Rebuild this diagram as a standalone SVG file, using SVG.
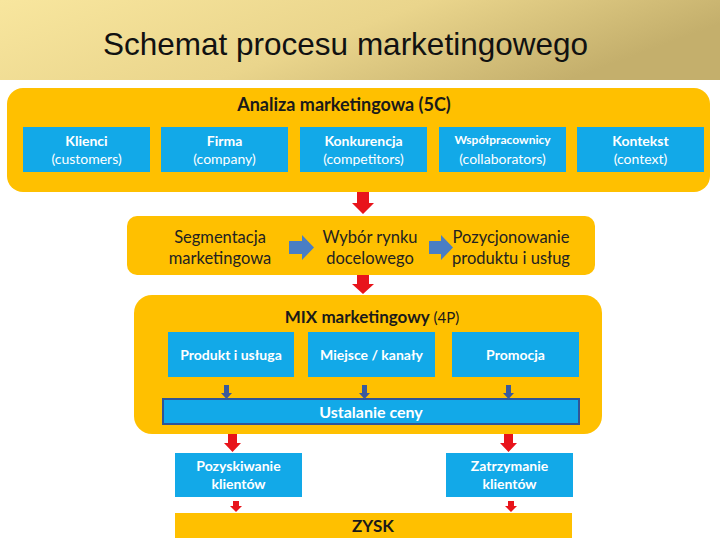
<svg xmlns="http://www.w3.org/2000/svg" width="720" height="540" viewBox="0 0 720 540">
<defs>
<linearGradient id="band" x1="0" y1="0" x2="1" y2="0.3">
<stop offset="0" stop-color="#F8E69E"/>
<stop offset="0.55" stop-color="#EAD58C"/>
<stop offset="1" stop-color="#C4AF6C"/>
</linearGradient>
<style>
.panel{fill:#FFC000;}
.blue{fill:#12A9E8;}
.wt{font-family:Lato,"Open Sans","Liberation Sans",sans-serif;font-size:14px;fill:#FFFFFF;text-anchor:middle;}
.wb{font-weight:bold;}
.bt{font-family:Lato,"Open Sans","Liberation Sans",sans-serif;font-size:16.5px;fill:#222222;text-anchor:middle;}
.hd{font-family:Lato,"Open Sans","Liberation Sans",sans-serif;font-size:18px;font-weight:bold;fill:#1A1A1A;text-anchor:middle;}
.red{fill:#E8141B;}
.barrow{fill:#4A7EC4;}
.darrow{fill:#3A5A9C;}
</style>
</defs>
<rect x="0" y="0" width="720" height="540" fill="#FFFFFF"/>
<g id="title">
<rect x="0" y="0" width="720" height="80" fill="url(#band)"/>
<text x="103" y="55" font-family="'Liberation Sans',Arial,sans-serif" font-size="31.5" fill="#111111">Schemat procesu marketingowego</text>
</g>

<g id="analiza">
<rect class="panel" x="7" y="88" width="703" height="104" rx="16"/>
<text class="hd" x="344" y="111">Analiza marketingowa (5C)</text>
</g>
<g id="klienci">
<rect class="blue" x="23" y="127" width="127" height="45"/>
<text class="wt wb" x="86.5" y="146">Klienci</text>
<text class="wt" x="86.5" y="164">(customers)</text>
</g>
<g id="firma">
<rect class="blue" x="161" y="127" width="127" height="45"/>
<text class="wt wb" x="224.5" y="146">Firma</text>
<text class="wt" x="224.5" y="164">(company)</text>
</g>
<g id="konkurencja">
<rect class="blue" x="300" y="127" width="127" height="45"/>
<text class="wt wb" x="363.5" y="146">Konkurencja</text>
<text class="wt" x="363.5" y="164">(competitors)</text>
</g>
<g id="wspolpracownicy">
<rect class="blue" x="439" y="127" width="127" height="45"/>
<text class="wt wb" x="502.5" y="144" style="font-size:12px">Współpracownicy</text>
<text class="wt" x="502.5" y="164">(collaborators)</text>
</g>
<g id="kontekst">
<rect class="blue" x="577" y="127" width="127" height="45"/>
<text class="wt wb" x="640.5" y="146">Kontekst</text>
<text class="wt" x="640.5" y="164">(context)</text>
</g>

<g id="stp">
<rect class="panel" x="127" y="216" width="468" height="59" rx="10"/>
<text class="bt" x="220" y="243">Segmentacja</text>
<text class="bt" x="220" y="264">marketingowa</text>
<text class="bt" x="370" y="243">Wybór rynku</text>
<text class="bt" x="370" y="264">docelowego</text>
<text class="bt" x="511" y="243">Pozycjonowanie</text>
<text class="bt" x="511" y="264">produktu i usług</text>
</g>

<g id="mix">
<rect class="panel" x="134" y="295" width="468" height="139" rx="18"/>
<text class="hd" x="372" y="323" style="font-size:17px">MIX marketingowy <tspan style="font-weight:normal;font-size:15px">(4P)</tspan></text>
</g>
<g id="produkt">
<rect class="blue" x="168" y="332" width="126" height="45"/>
<text class="wt wb" x="231" y="360">Produkt i usługa</text>
</g>
<g id="miejsce">
<rect class="blue" x="308" y="332" width="127" height="45"/>
<text class="wt wb" x="371.5" y="360">Miejsce / kanały</text>
</g>
<g id="promocja">
<rect class="blue" x="452" y="332" width="127" height="45"/>
<text class="wt wb" x="515.5" y="360">Promocja</text>
</g>
<g id="cena">
<rect class="blue" x="163" y="399" width="416" height="25" stroke="#2F5597" stroke-width="2"/>
<text class="wt wb" x="371" y="417.5" style="font-size:16px">Ustalanie ceny</text>
</g>

<g id="pozyskiwanie">
<rect class="blue" x="175" y="453" width="127" height="44"/>
<text class="wt wb" x="238.5" y="471">Pozyskiwanie</text>
<text class="wt wb" x="238.5" y="489">klientów</text>
</g>
<g id="zatrzymanie">
<rect class="blue" x="446" y="453" width="127" height="44"/>
<text class="wt wb" x="509.5" y="471">Zatrzymanie</text>
<text class="wt wb" x="509.5" y="489">klientów</text>
</g>
<g id="zysk">
<rect class="panel" x="175" y="513" width="397" height="25"/>
<text class="hd" x="373" y="531.5" style="font-size:17px">ZYSK</text>
</g>

<g id="connectors">
<path class="red" d="M357 192 H369 V203 H374 L363 214 L352 203 H357 Z"/>
<path class="red" d="M357 275 H369 V284 H374 L363 294 L352 284 H357 Z"/>
<path class="barrow" d="M289 241 H302 V235 L314 247.5 L302 260 V254 H289 Z"/>
<path class="barrow" d="M429 241 H441 V235 L453 247.5 L441 260 V254 H429 Z"/>
<path class="darrow" d="M224 385 H229 V393 H232 L226.5 399 L221 393 H224 Z"/>
<path class="darrow" d="M362 385 H367 V393 H370 L364.5 399 L359 393 H362 Z"/>
<path class="darrow" d="M506 385 H511 V393 H514 L508.5 399 L503 393 H506 Z"/>
<path class="red" d="M228 434 H237 V443 H241 L232.5 452 L224 443 H228 Z"/>
<path class="red" d="M504 434 H513 V443 H517 L508.5 452 L500 443 H504 Z"/>
<path class="red" d="M233 501 H239 V506 H242 L236 512 L230 506 H233 Z"/>
<path class="red" d="M508 501 H514 V506 H517 L511 512 L505 506 H508 Z"/>
</g>
</svg>
